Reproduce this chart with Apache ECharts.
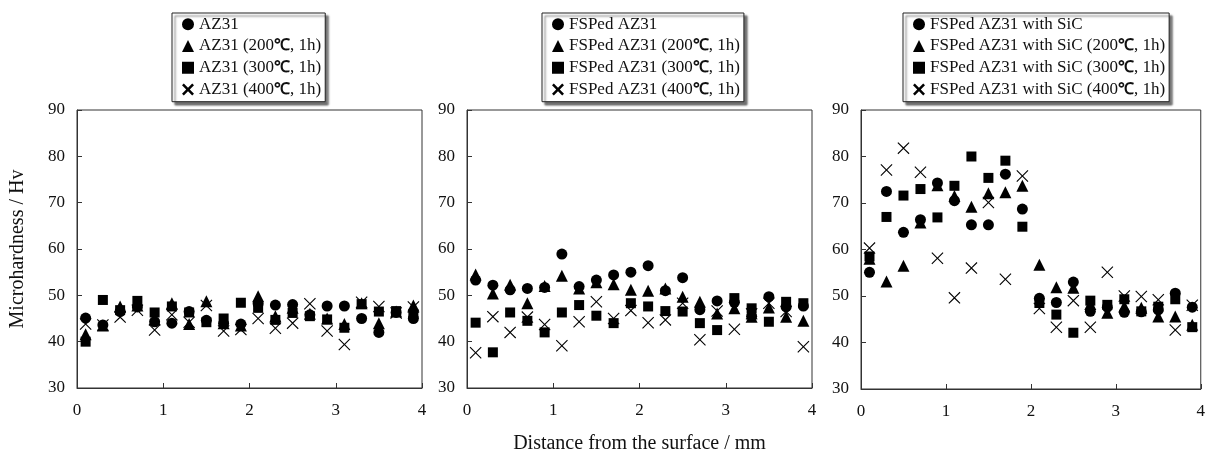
<!DOCTYPE html>
<html>
<head>
<meta charset="utf-8">
<script src="https://cdn.jsdelivr.net/npm/echarts@6/dist/echarts.min.js"></script>
<style>
html,body{margin:0;padding:0;background:#fff;}
#chart{width:1208px;height:459px;}
</style>
</head>
<body>
<div id="chart"></div>
<script>
// distance from the surface (mm)
const xs = [0.1,0.3,0.5,0.7,0.9,1.1,1.3,1.5,1.7,1.9,2.1,2.3,2.5,2.7,2.9,3.1,3.3,3.5,3.7,3.9];

// Panel 1: AZ31
const names1 = ['AZ31','AZ31 (200℃, 1h)','AZ31 (300℃, 1h)','AZ31 (400℃, 1h)'];
const az_asr  = [45.1,43.6,46.5,47.5,44.3,44.0,46.5,44.6,43.9,43.8,48.2,47.9,48.0,45.8,47.7,47.7,45.0,42.0,46.3,45.0];
const az_200  = [41.6,43.5,47.6,47.8,44.8,48.3,43.8,48.7,44.0,43.5,49.8,45.5,47.3,46.0,45.0,43.8,48.3,44.0,46.5,47.8];
const az_300  = [40.0,49.0,46.8,48.8,46.3,47.6,46.3,44.2,45.0,48.4,47.3,44.7,46.2,45.5,44.8,43.0,48.1,46.5,46.6,46.0];
const az_400  = [43.8,43.6,45.3,46.8,42.5,45.8,44.2,47.8,42.3,42.6,45.0,42.9,44.0,48.2,42.3,39.4,48.5,47.6,46.2,47.5];

// Panel 2: FSPed AZ31
const names2 = ['FSPed AZ31','FSPed AZ31 (200℃, 1h)','FSPed AZ31 (300℃, 1h)','FSPed AZ31 (400℃, 1h)'];
const fsp_asr = [53.3,52.2,51.2,51.5,51.7,58.9,51.9,53.3,54.4,55.0,56.4,51.0,53.8,46.9,48.8,48.5,45.5,49.7,47.5,47.7];
const fsp_200 = [54.5,50.4,52.3,48.3,52.0,54.2,51.5,52.8,52.4,51.2,51.0,51.5,49.7,48.6,46.1,47.2,45.4,47.4,45.4,44.5];
const fsp_300 = [44.1,37.7,46.3,44.5,42.0,46.3,47.9,45.6,44.0,48.3,47.6,46.6,46.5,44.0,42.5,49.4,47.2,44.3,48.6,48.3];
const fsp_400 = [37.6,45.4,42.0,45.3,43.7,39.1,44.3,48.6,45.0,46.7,44.1,44.7,48.3,40.4,46.6,42.7,46.0,48.3,46.5,38.9];

// Panel 3: FSPed AZ31 with SiC
const names3 = ['FSPed AZ31 with SiC','FSPed AZ31 with SiC (200℃, 1h)','FSPed AZ31 with SiC (300℃, 1h)','FSPed AZ31 with SiC (400℃, 1h)'];
const sic_asr = [55.1,72.5,63.7,66.4,74.3,70.5,65.3,65.3,76.2,68.7,49.5,48.6,53.0,46.7,47.6,46.5,46.6,47.0,50.6,47.6];
const sic_200 = [58.0,53.1,56.5,65.8,73.8,71.5,69.2,72.1,72.3,73.7,56.7,51.9,51.8,48.3,46.4,47.8,47.5,45.6,45.6,43.8];
const sic_300 = [58.5,67.0,71.6,73.0,66.9,73.7,80.0,75.4,79.1,64.9,48.5,46.0,42.1,49.0,48.1,49.3,46.7,47.7,49.3,43.3];
const sic_400 = [60.3,77.1,81.8,76.6,58.1,49.6,56.0,70.1,53.6,75.8,47.3,43.3,49.0,43.3,55.1,50.0,49.9,49.2,42.7,48.0];

const yTicks = [30,40,50,60,70,80,90];
const xTicks = [0,1,2,3,4];

const SERIF = '"Liberation Serif","Times New Roman",serif';
const INK = '#111';

function xPath(w){
  const a=50-w, b=50+w, c=100-w;
  return 'path://M0,'+w+'L'+w+',0L50,'+a+'L'+c+',0L100,'+w+'L'+b+',50L100,'+c+'L'+c+',100L50,'+b+'L'+w+',100L0,'+c+'L'+a+',50Z';
}
const X_PLOT = xPath(6.5);
const X_LEG = xPath(15);
const symbols = ['circle','triangle','rect',X_PLOT];
const legIcons = ['circle','triangle','rect',X_LEG];
const sizes = [11,12,10,12];

const grids = [
  {left:77, top:110, width:345, height:278},
  {left:467, top:110, width:345, height:278},
  {left:861, top:110, width:344, height:279}
];
const panels = [
  {names:names1, data:[az_asr,az_200,az_300,az_400], legLeft:172},
  {names:names2, data:[fsp_asr,fsp_200,fsp_300,fsp_400], legLeft:542},
  {names:names3, data:[sic_asr,sic_200,sic_300,sic_400], legLeft:903}
];

const option = {
  animation:false,
  backgroundColor:'#fff',
  grid: grids.map(g=>Object.assign({show:true, borderColor:'#333', borderWidth:1, backgroundColor:'transparent'}, g)),
  xAxis: grids.map((g,i)=>({
    type:'value', gridIndex:i, min:xTicks[0], max:xTicks[xTicks.length-1], interval:1,
    axisLine:{show:true, lineStyle:{color:'#333', width:1}},
    axisTick:{show:true, inside:true, length:5, lineStyle:{color:'#333'}},
    splitLine:{show:false},
    axisLabel:{fontFamily:SERIF, fontSize:17, color:INK, margin:14},
    name: i===1 ? 'Distance from the surface / mm' : '',
    nameLocation:'middle', nameGap:46,
    nameTextStyle:{fontFamily:SERIF, fontSize:20, color:INK}
  })),
  yAxis: grids.map((g,i)=>({
    type:'value', gridIndex:i, min:yTicks[0], max:yTicks[yTicks.length-1], interval:10,
    axisLine:{show:true, lineStyle:{color:'#333', width:1}},
    axisTick:{show:true, inside:true, length:5, lineStyle:{color:'#333'}},
    splitLine:{show:false},
    axisLabel:{fontFamily:SERIF, fontSize:17, color:INK, margin:12},
    name: i===0 ? 'Microhardness / Hv' : '',
    nameLocation:'middle', nameGap:49, nameRotate:90,
    nameTextStyle:{fontFamily:SERIF, fontSize:20, color:INK}
  })),
  legend: panels.map((p,i)=>({
    orient:'vertical', left:p.legLeft, top:13,
    data: p.names.map((n,k)=>({name:n, icon:legIcons[k]})),
    itemWidth:12, itemHeight:12, itemGap:3.5,
    padding:[2,4,3,10],
    backgroundColor:'#fff', borderColor:'#222', borderWidth:1,
    shadowColor:'rgba(0,0,0,0.55)', shadowBlur:2, shadowOffsetX:3, shadowOffsetY:3,
    selectedMode:false,
    itemStyle:{color:'#000'},
    textStyle:{fontFamily:SERIF, fontSize:17, lineHeight:18.3, color:INK,
      rich:{c:{fontFamily:'"Liberation Sans",Arial,sans-serif', fontWeight:'bold', fontSize:16, lineHeight:18.3, color:INK}}},
    formatter: n => n.replace('℃','{c|℃}')
  })),
  series: []
};

panels.forEach((p,i)=>{
  p.data.forEach((vals,k)=>{
    option.series.push({
      type:'scatter', name:p.names[k], xAxisIndex:i, yAxisIndex:i,
      symbol:symbols[k], symbolSize:sizes[k],
      itemStyle:{color:'#000', opacity:1},
      data: xs.map((x,j)=>[x, vals[j]]),
      z: 2+k
    });
  });
});

const chart = echarts.init(document.getElementById('chart'), null, {renderer:'canvas'});
chart.setOption(option);
</script>
</body>
</html>
